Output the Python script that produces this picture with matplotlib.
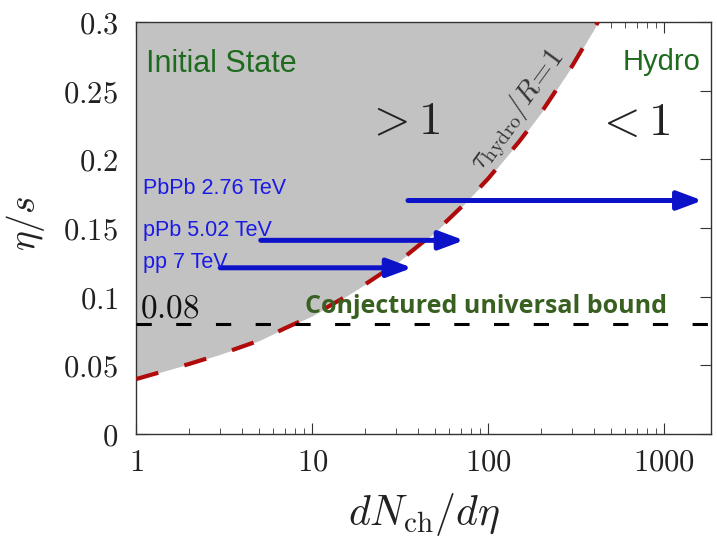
import numpy as np
import matplotlib
matplotlib.use("Agg")
import matplotlib.pyplot as plt

plt.rcParams['mathtext.fontset'] = 'cm'
plt.rcParams['font.family'] = ['DejaVu Sans']

# curva tau_hydro/R = 1
curve_x = [1, 2, 3, 5, 7, 10, 15, 20, 30, 50, 70, 100, 150, 200, 300, 400, 420]
curve_y = [0.040, 0.051, 0.058, 0.068, 0.077, 0.086, 0.099, 0.109, 0.124,
           0.147, 0.165, 0.186, 0.213, 0.234, 0.268, 0.295, 0.300]

# flechas: (inicio, fin, eta/s)
arrow_names = ["PbPb 2.76 TeV", "pPb 5.02 TeV", "pp 7 TeV"]
arrow_start = [35, 5.1, 3.0]
arrow_end = [1650, 73, 37]
arrow_y = [0.170, 0.141, 0.121]

bound = 0.08

xticks = [1, 10, 100, 1000]
xlab = ["$1$", "$10$", "$100$", "$1000$"]
yticks = [0, 0.05, 0.1, 0.15, 0.2, 0.25, 0.3]
ylab = ["$0$", "$0.05$", "$0.1$", "$0.15$", "$0.2$", "$0.25$", "$0.3$"]

fig = plt.figure(figsize=(7.17, 5.49), dpi=100)
ax = fig.add_axes([0.190, 0.2095, 0.802, 0.7505])

ax.fill_between(curve_x, curve_y, 0.3, color="#c2c2c2", lw=0, zorder=2.6)
ax.plot(curve_x, curve_y, color="#b00a0a", lw=3.0, dashes=(5.5, 6.5), zorder=4)
ax.axhline(bound, color="black", lw=2.2, dashes=(5, 8), zorder=4)

for s, e, y in zip(arrow_start, arrow_end, arrow_y):
    ax.annotate("", xy=(e, y), xytext=(s, y),
                arrowprops=dict(arrowstyle="-|>,head_length=0.75,head_width=0.28",
                                lw=3.6, color="#0c12c8", shrinkA=0, shrinkB=0,
                                mutation_scale=20), zorder=5)

ax.set_xscale("log")
ax.set_xlim(1, 1850)
ax.set_ylim(0, 0.3)
ax.set_xticks(xticks)
ax.set_xticklabels(xlab)
ax.set_yticks(yticks)
ax.set_yticklabels(ylab)
ax.tick_params(which="both", direction="in", top=True, right=True, colors="#333333",
               labelcolor="#222222", labelsize=22)
ax.tick_params(which="major", length=8, pad=10)
ax.tick_params(which="minor", length=4)
ax.tick_params(axis="y", pad=13)
for sp in ax.spines.values():
    sp.set_color("#333333")
    sp.set_linewidth(1.0)
    sp.set_zorder(3)

ax.set_xlabel(r"$dN_{\rm ch}/d\eta$", fontsize=30, color="#222222", labelpad=10)
ax.set_ylabel(r"$\eta/s$", fontsize=27, color="#222222")
ax.yaxis.set_label_coords(-0.155, 0.51)

green = "#1e6b1e"
ax.text(0.017, 0.898, "Initial State", transform=ax.transAxes, fontsize=22,
        family="Liberation Sans", color=green, ha="left", va="center", zorder=6)
ax.text(0.981, 0.903, "Hydro", transform=ax.transAxes, fontsize=21,
        family="Liberation Sans", color=green, ha="right", va="center", zorder=6)
ax.text(0.464, 0.757, "$>1$", transform=ax.transAxes, fontsize=34,
        color="#222222", ha="center", va="center", zorder=6)
ax.text(0.863, 0.757, "$<1$", transform=ax.transAxes, fontsize=34,
        color="#222222", ha="center", va="center", zorder=6)
ax.text(0.663, 0.786, r"$\tau_{\rm hydro}/R\!=\!1$", transform=ax.transAxes,
        fontsize=21, rotation=54, color="#333333", ha="center", va="center", zorder=6)

for name, yy in zip(arrow_names, [0.597, 0.495, 0.417]):
    ax.text(0.012, yy, name, transform=ax.transAxes, fontsize=15.5,
            family="Liberation Sans", color="#1a1ae6", ha="left", va="center", zorder=6)

ax.text(0.007, 0.305, "$0.08$", transform=ax.transAxes, fontsize=24,
        color="#111111", ha="left", va="center", zorder=6)
ax.text(0.294, 0.310, "Conjectured universal bound", transform=ax.transAxes,
        fontsize=18, family="Open Sans", fontweight="bold", color="#386020",
        ha="left", va="center", zorder=6)

fig.savefig("out.png", dpi=100)
